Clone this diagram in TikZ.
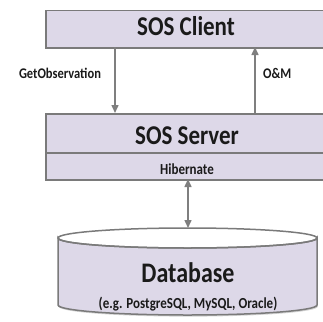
\documentclass[tikz,border=0pt]{standalone}
\usepackage{fontspec}
\usepackage{graphicx}
\setmainfont{Carlito}
\usetikzlibrary{arrows.meta,shadows}
\definecolor{boxfill}{HTML}{DDD8E8}
\definecolor{boxline}{HTML}{7A7A7A}
\definecolor{arrowgrey}{HTML}{7F7F7F}
\definecolor{txt}{HTML}{1A1A1A}
\newcommand{\tallt}[1]{\scalebox{1}[1.18]{#1}}
\tikzset{
  layer/.style={draw=boxline, line width=1.5pt, fill=boxfill, rectangle, inner sep=0pt,
    drop shadow={shadow xshift=0.8pt, shadow yshift=-1.6pt, opacity=0.35}},
  flow/.style={draw=arrowgrey, line width=1.5pt, -{Triangle[length=8pt,width=7pt]}},
  lbl/.style={text=txt, font=\bfseries, inner sep=0pt, anchor=base},
}
\begin{document}
\begin{tikzpicture}[x=1pt,y=-1pt]
\useasboundingbox (0,0) rectangle (323,321);
% layers
\node[layer, minimum width=282pt, minimum height=37pt, anchor=north west] (client) at (45,10) {};
\node[layer, minimum width=282pt, minimum height=39pt, anchor=north west] (server) at (45,113) {};
\node[layer, minimum width=282pt, minimum height=27pt, anchor=north west] (hib) at (45,152) {};
\node[lbl, font=\bfseries\fontsize{23}{26}\selectfont] (clientT) at (186,36) {\tallt{SOS Client}};
\node[lbl, font=\bfseries\fontsize{23}{26}\selectfont] (serverT) at (187,144) {\tallt{SOS Server}};
\node[lbl, font=\bfseries\fontsize{13}{15}\selectfont] (hibT) at (187,174) {\tallt{Hibernate}};
% database cylinder
\path[fill=boxfill, draw=boxline, line width=1.5pt,
  drop shadow={shadow xshift=0.8pt, shadow yshift=-1.6pt, opacity=0.35}]
  (58,238) arc[start angle=180, end angle=360, x radius=129.5pt, y radius=10pt]
  -- (317,305) arc[start angle=0, end angle=-180, x radius=129.5pt, y radius=10pt] -- cycle;
\draw[boxline, line width=1.5pt] (187.5,238) ellipse[x radius=129.5pt, y radius=10pt];
\coordinate (dbtop) at (188,228);
\node[lbl, font=\bfseries\fontsize{24}{28}\selectfont] (dbT) at (188,282) {\tallt{Database}};
\node[lbl, font=\bfseries\fontsize{13}{15}\selectfont] (dbS) at (188,308) {\tallt{(e.g. PostgreSQL, MySQL, Oracle)}};
% connectors
\coordinate (getA) at (115,47);
\coordinate (getB) at (115,113);
\coordinate (omA) at (255,113);
\coordinate (omB) at (255,47);
\draw[flow] (getA) -- (getB);
\draw[flow] (omA) -- (omB);
\coordinate (hibB) at (188,179);
\draw[flow, {Triangle[length=8pt,width=7pt]}-{Triangle[length=8pt,width=7pt]}] (hibB) -- (dbtop);
\node[lbl, font=\bfseries\fontsize{12.5}{15}\selectfont] (getL) at (60,78) {\tallt{GetObservation}};
\node[lbl, font=\bfseries\fontsize{12.5}{15}\selectfont, anchor=base west] (omL) at (263,78) {\tallt{O\&M}};
\end{tikzpicture}
\end{document}
